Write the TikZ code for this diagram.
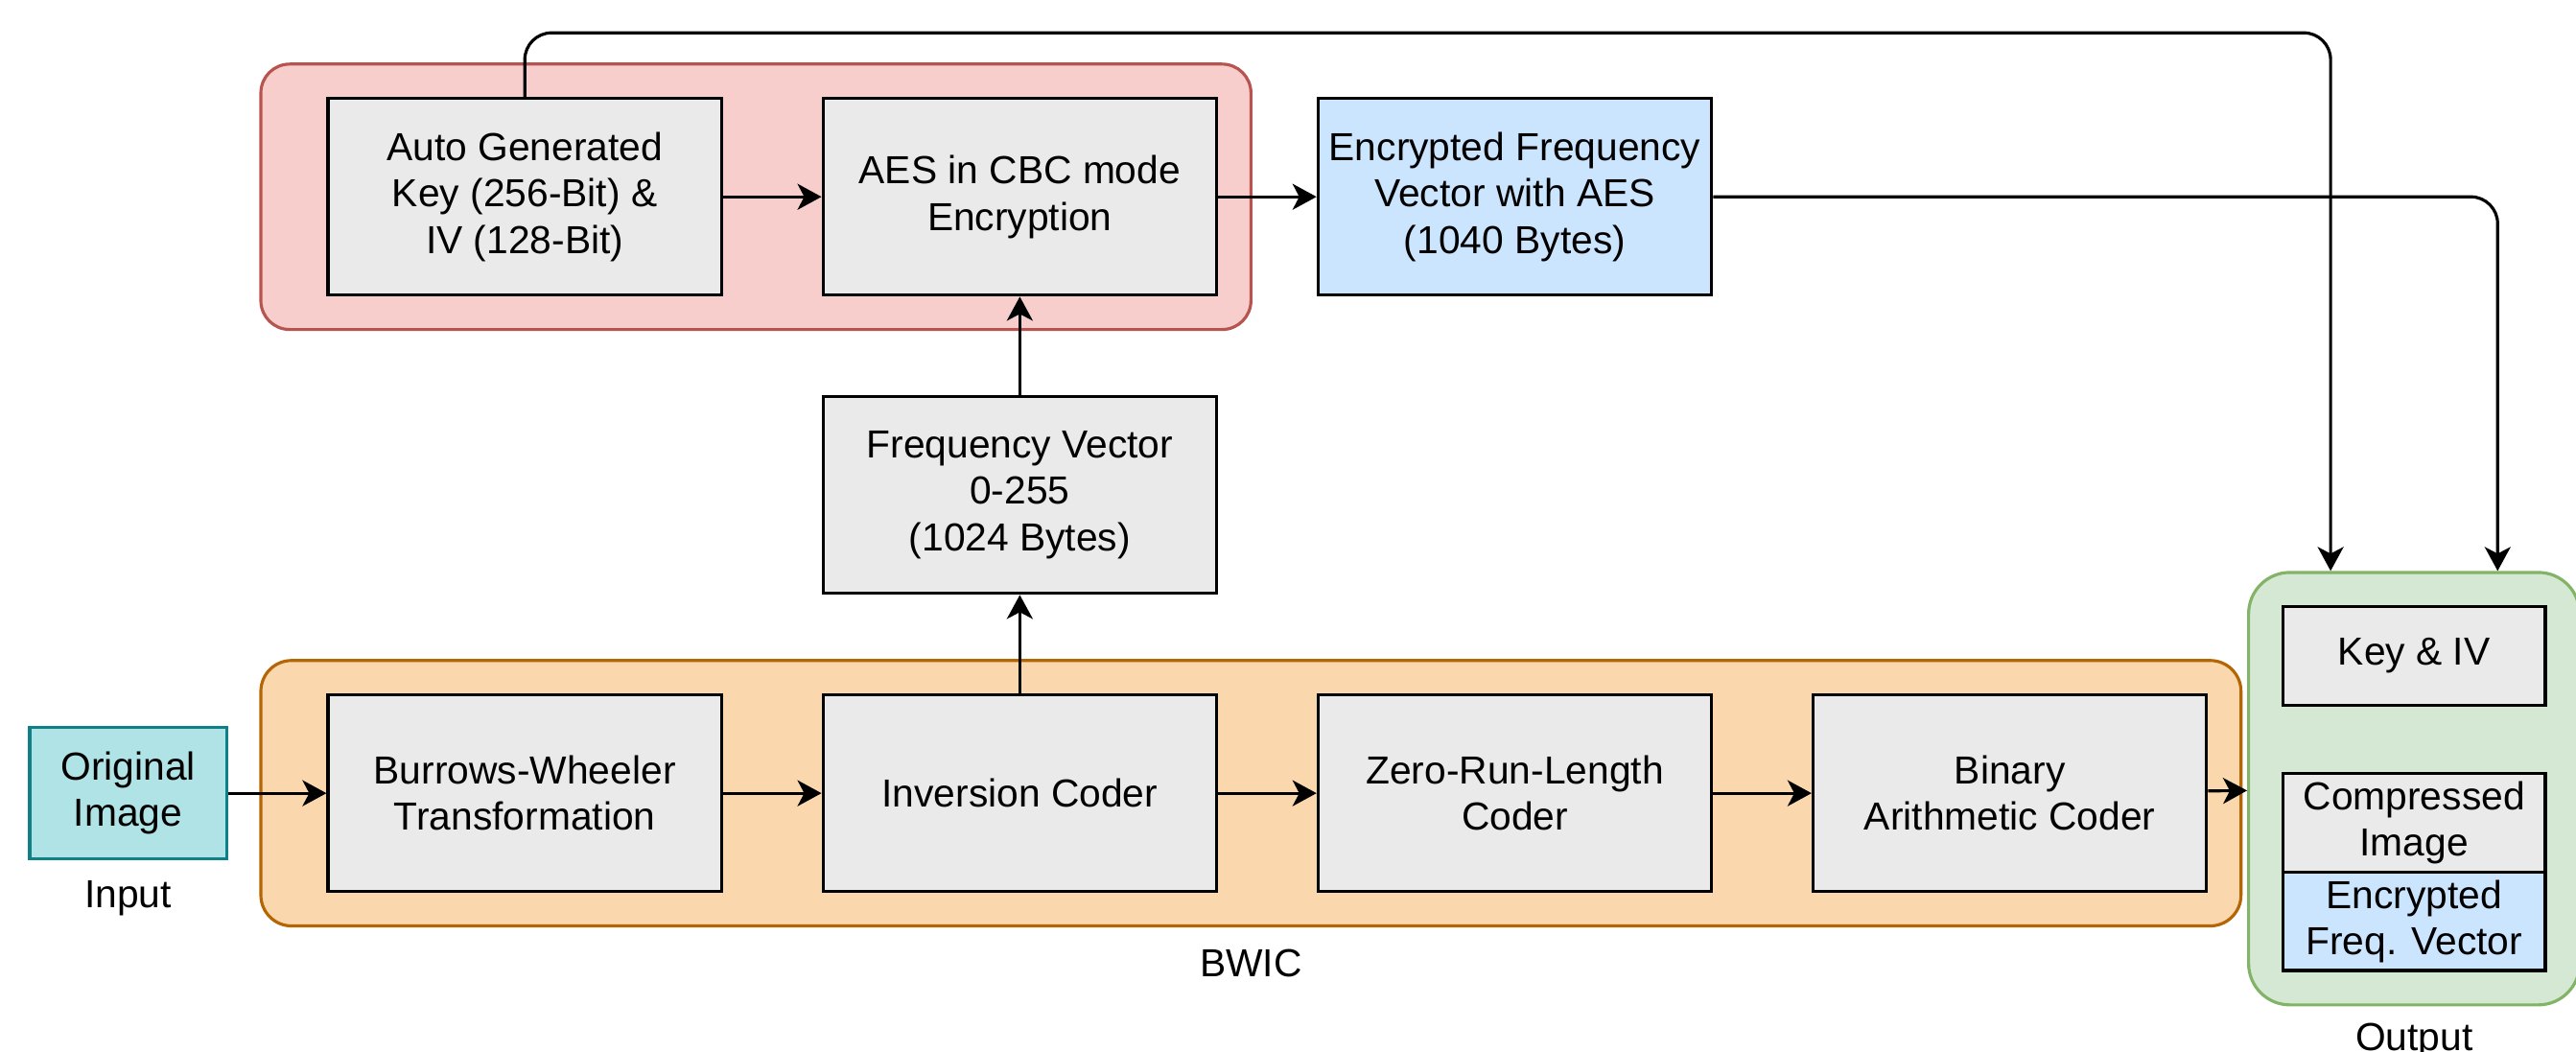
\documentclass[tikz,border=0pt]{standalone}
\usepackage{fontspec}
\setmainfont{Liberation Sans}
\usepackage{xcolor}
\usetikzlibrary{arrows.meta, positioning, fit, backgrounds, calc}
\definecolor{procfill}{HTML}{EAEAEA}
\definecolor{encfill}{HTML}{CCE5FF}
\definecolor{infill}{HTML}{B0E3E6}
\definecolor{indraw}{HTML}{0E8088}
\definecolor{keyfill}{HTML}{F8CECC}
\definecolor{keydraw}{HTML}{B85450}
\definecolor{bwicfill}{HTML}{FAD7AC}
\definecolor{bwicdraw}{HTML}{B46504}
\definecolor{outfill}{HTML}{D5E8D4}
\definecolor{outdraw}{HTML}{82B366}
\tikzset{
  blk/.style={rectangle, draw=black, line width=0.9pt, align=center, font=\fontsize{11.6}{13.8}\selectfont, inner sep=1pt},
  proc/.style={blk, fill=procfill, minimum width=4.104cm, minimum height=2.052cm},
  cipher/.style={proc, fill=encfill},
  inbox/.style={blk, draw=indraw, fill=infill, minimum width=2.052cm, minimum height=1.368cm},
  slot/.style={blk, fill=procfill, minimum width=2.736cm, minimum height=1.026cm},
  grp/.style={rectangle, line width=0.9pt, inner sep=0pt},
  grpkey/.style={grp, rounded corners=0.3cm, draw=keydraw, fill=keyfill},
  grpbwic/.style={grp, rounded corners=0.32cm, draw=bwicdraw, fill=bwicfill},
  grpout/.style={grp, rounded corners=0.43cm, draw=outdraw, fill=outfill},
  lab/.style={font=\fontsize{11.6}{13.8}\selectfont, inner sep=0pt},
  arr/.style={-{Stealth[length=0.25cm, width=0.27cm, inset=0.07cm]}, line width=0.9pt, rounded corners=0.28cm},
}
\begin{document}
\begin{tikzpicture}[node distance=1.026cm]
  \useasboundingbox (0,0) rectangle (26.86,-10.96);
  % key generation and AES
  \node[proc] (auto) at (5.472,-2.052) {Auto Generated\\Key (256-Bit) \&\\IV (128-Bit)};
  \node[proc, right=of auto] (aes) {AES in CBC mode\\Encryption};
  \node[cipher, right=of aes] (encfv) {Encrypted Frequency\\Vector with AES\\(1040 Bytes)};
  \node[proc, below=of aes] (freq) {Frequency Vector\\0-255\\(1024 Bytes)};
  % BWIC chain
  \node[proc, below=of freq] (inv) {Inversion Coder};
  \node[proc, left=of inv] (bwt) {Burrows-Wheeler\\Transformation};
  \node[proc, right=of inv] (zrl) {Zero-Run-Length\\Coder};
  \node[proc, right=of zrl] (bac) {Binary\\Arithmetic Coder};
  \node[inbox, left=of bwt] (orig) {Original\\Image};
  \node[lab, below=0.21cm of orig] (inlab) {Input};
  % output file
  \node[slot] (keyiv) at (25.172,-6.84) {Key \& IV};
  \node[slot, below=0.684cm of keyiv] (cimg) {Compressed\\Image};
  \node[slot, fill=encfill, below=-0.9pt of cimg] (cfv) {Encrypted\\Freq. Vector};
  \begin{scope}[on background layer]
    \node[grpkey, fit={($(auto.north west)+(-0.684,0.342)$) ($(aes.south east)+(0.342,-0.342)$)}] (keygrp) {};
    \node[grpbwic, fit={($(bwt.north west)+(-0.684,0.342)$) ($(bac.south east)+(0.342,-0.342)$)}] (bwicgrp) {};
    \node[grpout, fit=(keyiv) (cfv), inner sep=0.342cm] (outgrp) {};
  \end{scope}
  \node[lab, below=0.22cm of bwicgrp] (bwiclab) {BWIC};
  \node[lab, below=0.17cm of outgrp] (outlab) {Output};
  \coordinate (keyin) at ($(outgrp.north west)!0.25!(outgrp.north east)$);
  \coordinate (fvin) at ($(outgrp.north west)!0.75!(outgrp.north east)$);
  \coordinate (rail) at (0,-0.342);
  \draw[arr] (orig) -- (bwt);
  \draw[arr] (bwt) -- (inv);
  \draw[arr] (inv) -- (zrl);
  \draw[arr] (zrl) -- (bac);
  \draw[arr] (bac) -- (outgrp);
  \draw[arr] (inv) -- (freq);
  \draw[arr] (freq) -- (aes);
  \draw[arr] (auto) -- (aes);
  \draw[arr] (aes) -- (encfv);
  \draw[arr] (auto.north) -- (auto.north |- rail) -- (keyin |- rail) -- (keyin);
  \draw[arr] (encfv.east) -- (fvin |- encfv.east) -- (fvin);
\end{tikzpicture}
\end{document}
